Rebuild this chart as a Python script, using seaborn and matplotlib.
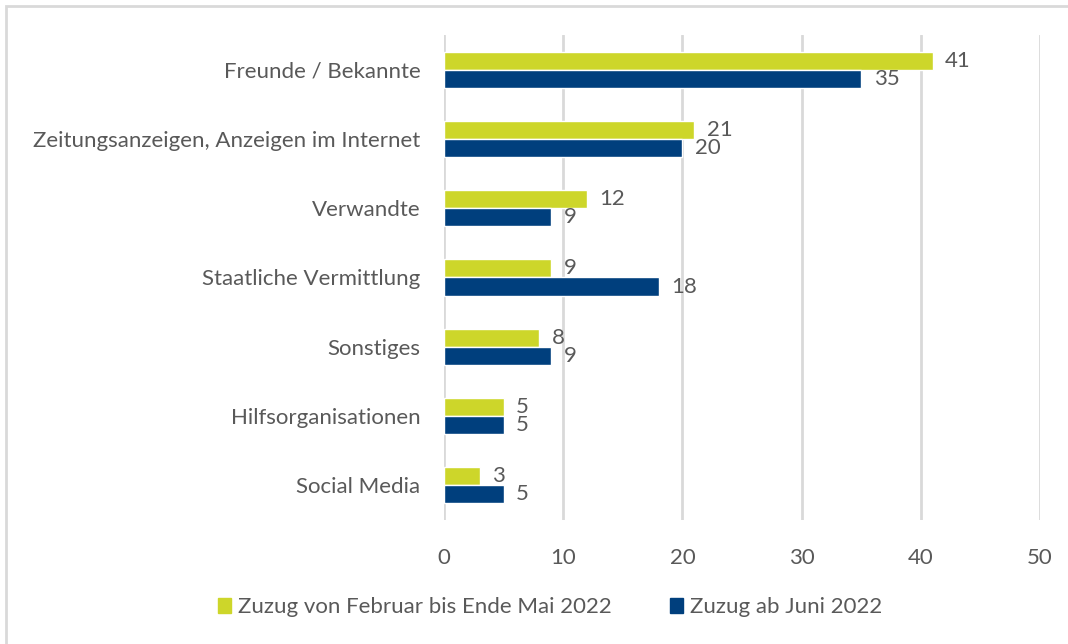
import pandas as pd
import matplotlib.pyplot as plt
import seaborn as sns
from matplotlib.patches import Rectangle

# Daten aus der Grafik
kategorien = ['Freunde / Bekannte', 'Zeitungsanzeigen, Anzeigen im Internet', 'Verwandte',
              'Staatliche Vermittlung', 'Sonstiges', 'Hilfsorganisationen', 'Social Media']
feb_mai = [41, 21, 12, 9, 8, 5, 3]
ab_juni = [35, 20, 9, 18, 9, 5, 5]
serien = ['Zuzug von Februar bis Ende Mai 2022', 'Zuzug ab Juni 2022']
farben = ['#CDD62A', '#003F7D']
x_ticks = [0, 10, 20, 30, 40, 50]

TEXT = '#595959'
FS = 16

def build_frame():
    rows = []
    for k, a, b in zip(kategorien, feb_mai, ab_juni):
        rows.append({'Kategorie': k, 'Serie': serien[0], 'Wert': a})
        rows.append({'Kategorie': k, 'Serie': serien[1], 'Wert': b})
    return pd.DataFrame(rows)

def main():
    sns.set_style('white')
    plt.rcParams['font.family'] = ['Lato', 'DejaVu Sans']

    df = build_frame()
    fig = plt.figure(figsize=(10.68, 6.44), dpi=100)
    ax = fig.add_axes([0.4157, 0.1925, 0.9738 - 0.4157, 0.9457 - 0.1925])

    sns.barplot(data=df, y='Kategorie', x='Wert', hue='Serie', order=kategorien,
                hue_order=serien, palette=farben, width=0.52, orient='h',
                saturation=1, ax=ax, legend=False)

    # Werte neben den Balken
    for cont in ax.containers:
        ax.bar_label(cont, padding=9, fontsize=FS, color=TEXT)

    ax.set_xlim(0, 50)
    ax.set_ylim(6.5, -0.5)
    ax.set_xticks(x_ticks)
    ax.set_xlabel('')
    ax.set_ylabel('')
    ax.xaxis.grid(True, color='#D9D9D9', linewidth=2)
    ax.set_axisbelow(True)
    for s in ax.spines.values():
        s.set_visible(False)
    ax.tick_params(axis='both', length=0, labelsize=FS, colors=TEXT)
    ax.tick_params(axis='y', pad=17)
    ax.tick_params(axis='x', pad=20)

    handles = [Rectangle((0, 0), 1, 1, color=c) for c in farben]
    fig.legend(handles, serien, loc='center', bbox_to_anchor=(0.515, 0.057), ncol=2,
               frameon=False, fontsize=FS, labelcolor=TEXT, handlelength=0.6,
               handleheight=0.6, handletextpad=0.3, columnspacing=2.6)

    # Rahmen um die Grafik
    fig.patches.append(Rectangle((6 / 1068, -0.1), 1.2, 1 - 6 / 644 + 0.1,
                                 transform=fig.transFigure, fill=False,
                                 edgecolor='#D9D9D9', linewidth=2))

    fig.savefig('out.png', dpi=100)

if __name__ == '__main__':
    main()
